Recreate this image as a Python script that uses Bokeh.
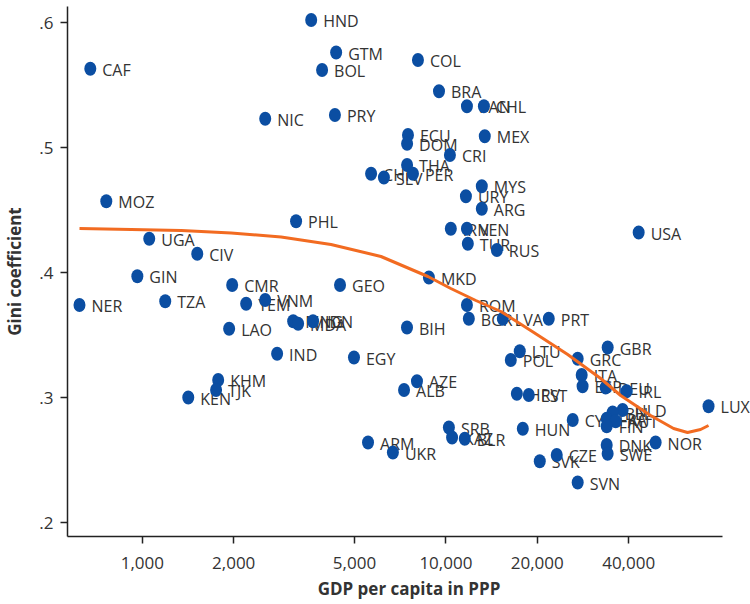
from bokeh.plotting import figure
from bokeh.models import FixedTicker, ColumnDataSource
from bokeh.core.properties import value
from bokeh.embed import file_html
from bokeh.resources import INLINE

countries = ["CAF", "HND", "GTM", "BOL", "COL", "BRA", "NIC", "PRY", "PAN", "CHL",
             "ECU", "DOM", "MEX", "CRI", "THA", "PER", "CHN", "SLV", "MYS", "URY",
             "ARG", "USA", "MOZ", "PHL", "IRN", "VEN", "TUR", "RUS", "UGA", "CIV",
             "GIN", "NER", "TZA", "CMR", "YEM", "VNM", "LAO", "GEO", "MKD", "MNG",
             "MDA", "IDN", "BIH", "IND", "EGY", "AZE", "ALB", "KHM", "TJK", "KEN",
             "ROM", "BGR", "LVA", "PRT", "LTU", "POL", "GRC", "GBR", "ITA", "ESP",
             "DEU", "IRL", "HRV", "EST", "HUN", "CYP", "NLD", "BEL", "FRA", "AUT",
             "FIN", "DNK", "SWE", "NOR", "LUX", "CZE", "SVK", "SVN", "ARM", "UKR",
             "SRB", "KAZ", "BLR"]
gdp = [674, 3600, 4350, 3910, 8090, 9490, 2540, 4310, 11730, 13340,
       7500, 7450, 13430, 10310, 7450, 7790, 5670, 6250, 13130, 11640,
       13130, 43150, 761, 3210, 10380, 11730, 11810, 14720, 1054, 1517,
       963, 621, 1190, 1977, 2198, 2540, 1932, 4480, 8790, 3140,
       3260, 3650, 7445, 2780, 4980, 8030, 7280, 1778, 1750, 1417,
       11730, 11900, 15400, 21820, 17510, 16360, 27170, 34110, 28010, 28200,
       33600, 39370, 17130, 18750, 17920, 26170, 38200, 35420, 33860, 36250,
       33860, 33860, 34100, 49070, 73300, 23180, 20380, 27170, 5540, 6690,
       10230, 10480, 11540]
gini = [0.563, 0.602, 0.576, 0.562, 0.570, 0.545, 0.523, 0.526, 0.533, 0.533,
        0.510, 0.503, 0.509, 0.494, 0.486, 0.479, 0.479, 0.476, 0.469, 0.461,
        0.451, 0.432, 0.457, 0.441, 0.435, 0.435, 0.423, 0.418, 0.427, 0.415,
        0.397, 0.374, 0.377, 0.390, 0.375, 0.378, 0.355, 0.390, 0.396, 0.361,
        0.359, 0.361, 0.356, 0.335, 0.332, 0.313, 0.306, 0.314, 0.306, 0.300,
        0.374, 0.363, 0.363, 0.363, 0.337, 0.330, 0.331, 0.340, 0.318, 0.309,
        0.308, 0.305, 0.303, 0.302, 0.275, 0.282, 0.290, 0.288, 0.283, 0.281,
        0.277, 0.262, 0.255, 0.264, 0.293, 0.254, 0.249, 0.232, 0.264, 0.256,
        0.276, 0.268, 0.267]

fit_gdp = [621, 920, 1344, 1962, 2866, 4184, 6112, 8727, 10380, 12550,
           15170, 19480, 25190, 32350, 37640, 47240, 56230, 62520, 69010, 73300]
fit_gini = [0.4352, 0.4344, 0.4336, 0.4316, 0.4284, 0.4224, 0.4128, 0.3968, 0.3872, 0.3776,
            0.3688, 0.3520, 0.3344, 0.3152, 0.3016, 0.2856, 0.2752, 0.2720, 0.2744, 0.2776]

x_ticks = [1000, 2000, 5000, 10000, 20000, 40000]
x_tick_labels = ["1,000", "2,000", "5,000", "10,000", "20,000", "40,000"]
y_ticks = [0.2, 0.3, 0.4, 0.5, 0.6]
y_tick_labels = [".2", ".3", ".4", ".5", ".6"]

FONT = "Open Sans"
TXT = "#333333"

src = ColumnDataSource(data=dict(gdp=gdp, gini=gini, code=countries))

p = figure(width=750, height=604, x_axis_type="log",
           x_range=(567, 100770), y_range=(0.1888, 0.6128),
           output_backend="svg", toolbar_location=None,
           min_border_left=66, min_border_right=0, min_border_top=6,
           min_border_bottom=68)
p.outline_line_color = None
p.xgrid.visible = False
p.ygrid.visible = False
p.background_fill_color = "white"
p.border_fill_color = "white"

p.text(x="gdp", y="gini", text="code", source=src, x_offset=12, y_offset=1,
       text_font=value(FONT), text_font_size="16px", text_baseline="middle",
       text_align="left", text_color=TXT)
p.ellipse(x="gdp", y="gini", source=src, width=12, height=14,
          width_units="screen", height_units="screen",
          fill_color="#0B4EA2", line_color=None)
p.line(fit_gdp, fit_gini, line_color="#F26B21", line_width=3)

for ax in (p.xaxis[0], p.yaxis[0]):
    ax.axis_line_color = "#222222"
    ax.axis_line_width = 1.5
    ax.major_tick_line_color = "#222222"
    ax.major_tick_line_width = 1.5
    ax.major_tick_out = 7
    ax.major_tick_in = 0
    ax.minor_tick_line_color = None
    ax.major_label_text_font = FONT
    ax.major_label_text_font_size = "17px"
    ax.major_label_text_color = TXT
    ax.axis_label_text_font = FONT
    ax.axis_label_text_font_size = "17px"
    ax.axis_label_text_font_style = "bold"
    ax.axis_label_text_color = TXT

p.xaxis.ticker = FixedTicker(ticks=x_ticks)
p.xaxis.major_label_overrides = dict(zip(x_ticks, x_tick_labels))
p.xaxis.bounds = (567, 81400)
p.xaxis.axis_label = "GDP per capita in PPP"
p.xaxis.major_label_standoff = 13
p.xaxis.axis_label_standoff = 5

p.yaxis.ticker = FixedTicker(ticks=y_ticks)
p.yaxis.major_label_overrides = dict(zip(y_ticks, y_tick_labels))
p.yaxis.axis_label = "Gini coefficient"
p.yaxis.major_label_standoff = 7
p.yaxis.axis_label_standoff = 10

open("out.html", "w").write(file_html(p, INLINE))
